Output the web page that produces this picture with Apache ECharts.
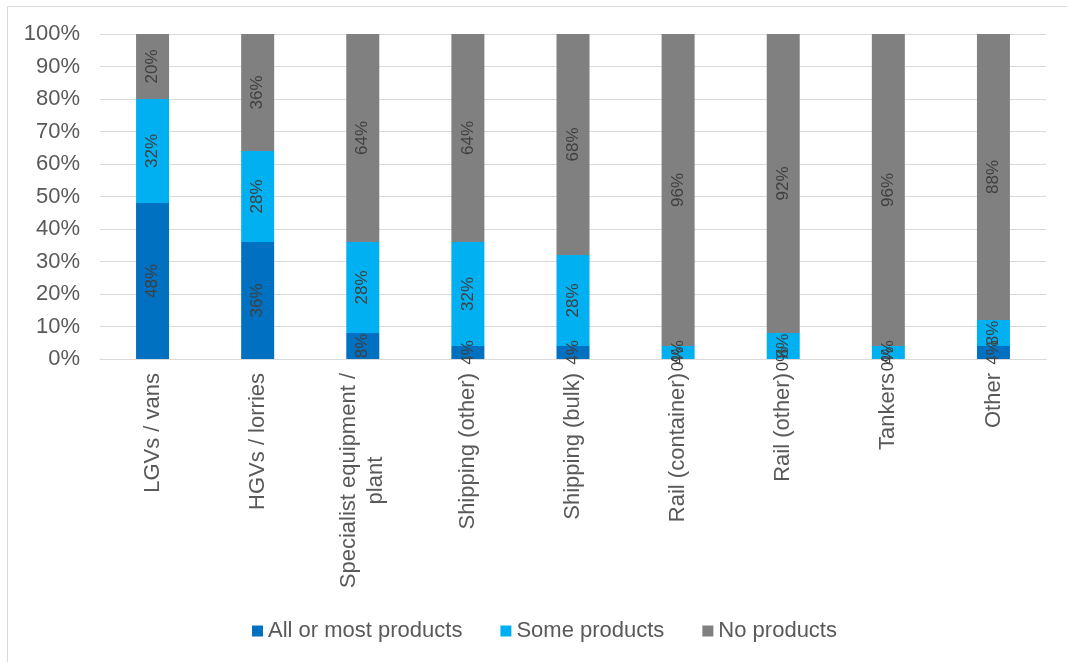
<!DOCTYPE html>
<html>
<head>
<meta charset="utf-8">
<script src="https://cdn.jsdelivr.net/npm/echarts@6/dist/echarts.min.js"></script>
<style>html,body{margin:0;padding:0;background:#fff;}#c{width:1067px;height:662px;}</style>
</head>
<body>
<div id="c"></div>
<script>
const categories = ['LGVs / vans', 'HGVs / lorries', 'Specialist equipment /\nplant', 'Shipping (other)', 'Shipping (bulk)', 'Rail (container)', 'Rail (other)', 'Tankers', 'Other'];
const allOrMost = [48, 36, 8, 4, 4, 0, 0, 0, 4];
const someProducts = [32, 28, 28, 32, 28, 4, 8, 4, 8];
const noProducts = [20, 36, 64, 64, 68, 96, 92, 96, 88];
const yTicks = [0, 10, 20, 30, 40, 50, 60, 70, 80, 90, 100];

const FONT = '"Liberation Sans", Arial, sans-serif';
const chart = echarts.init(document.getElementById('c'), null, {renderer: 'canvas'});

function mk(name, data, color) {
  return {
    name: name, type: 'bar', stack: 'total', data: data, barWidth: 33,
    itemStyle: {color: color},
    label: {
      show: true, position: 'inside', rotate: 90,
      formatter: p => p.value + '%',
      color: '#404040', fontSize: 17, fontFamily: FONT
    }
  };
}

chart.setOption({
  animation: false,
  textStyle: {fontFamily: FONT},
  grid: {left: 100, right: 21, top: 34, bottom: 303, containLabel: false},
  legend: {
    bottom: 20, left: 252, itemWidth: 11, itemHeight: 11, itemGap: 38, padding: 0,
    icon: 'rect',
    textStyle: {color: '#595959', fontSize: 22, fontFamily: FONT, padding: [0, 0, 0, 0]},
    data: ['All or most products', 'Some products', 'No products']
  },
  xAxis: {
    type: 'category', data: categories,
    axisLine: {lineStyle: {color: '#d9d9d9'}},
    axisTick: {show: false},
    axisLabel: {
      rotate: 90, interval: 0, margin: 14, color: '#595959', fontSize: 22, fontFamily: FONT,
      formatter: v => v.split('\n').map(s => '{a|' + s + '}').join('\n'),
      rich: {a: {align: 'center', color: '#595959', fontSize: 22, fontFamily: FONT, lineHeight: 27}}
    }
  },
  yAxis: {
    type: 'value', min: 0, max: 100, interval: 10,
    axisLabel: {formatter: v => v + '%', color: '#595959', fontSize: 22, fontFamily: FONT, margin: 20},
    splitLine: {lineStyle: {color: '#d9d9d9', width: 1}},
    axisLine: {show: false}, axisTick: {show: false}
  },
  series: [
    mk('All or most products', allOrMost, '#0070C0'),
    mk('Some products', someProducts, '#00B0F0'),
    mk('No products', noProducts, '#808080')
  ],
  graphic: [
    {type: 'line', shape: {x1: 7.5, y1: 6.5, x2: 1067, y2: 6.5}, style: {stroke: '#d9d9d9', lineWidth: 1}},
    {type: 'line', shape: {x1: 7.5, y1: 6.5, x2: 7.5, y2: 662}, style: {stroke: '#d9d9d9', lineWidth: 1}}
  ]
});
</script>
</body>
</html>
